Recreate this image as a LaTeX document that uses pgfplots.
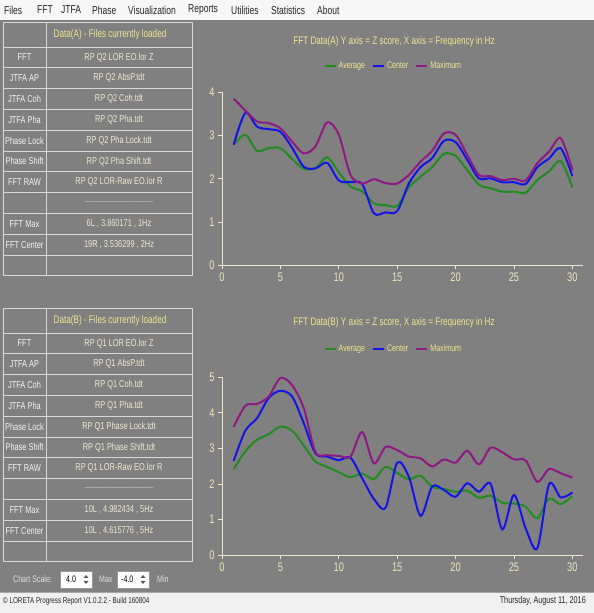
\documentclass[border=0pt]{standalone}
\usepackage{pgfplots}
\pgfplotsset{compat=1.18}
\usepackage{pgfplotstable}
\usepackage{fontspec}
\setmainfont{Liberation Sans}[FakeStretch=0.74]
\definecolor{bg}{HTML}{808080}
\definecolor{menubg}{HTML}{F7F7F7}
\definecolor{statbg}{HTML}{F0F0F0}
\definecolor{tline}{HTML}{D8D8D8}
\definecolor{axiscol}{HTML}{EEE8C8}
\definecolor{khaki}{HTML}{F0E68C}
\definecolor{tickcol}{HTML}{EEE8B8}
\definecolor{valcol}{HTML}{EFEAD0}
\definecolor{labcol}{HTML}{F4F4F4}
\definecolor{cgreen}{HTML}{228B22}
\definecolor{cblue}{HTML}{1414E6}
\definecolor{cpurple}{HTML}{8C1A82}

\pgfplotstableread{
x avg cen max
1 2.78 2.79 3.86
2 3.02 3.53 3.58
3 2.65 3.21 3.33
4 2.71 3.15 3.29
5 2.71 3.09 3.17
6 2.46 2.72 2.86
7 2.23 2.28 2.59
8 2.25 2.24 2.75
9 2.50 2.37 3.31
10 2.15 1.96 3.02
11 1.82 1.92 2.09
12 1.71 1.88 1.89
13 1.43 1.20 1.99
14 1.39 1.22 1.90
15 1.37 1.25 1.89
16 1.80 1.89 2.09
17 2.05 2.27 2.40
18 2.27 2.48 2.65
19 2.58 2.88 3.05
20 2.53 2.85 3.02
21 2.20 2.44 2.55
22 1.86 2.01 2.09
23 1.78 2.01 2.06
24 1.70 1.92 1.97
25 1.70 1.92 2.00
26 1.68 1.88 1.96
27 1.97 2.27 2.36
28 2.17 2.47 2.63
29 2.41 2.71 2.94
30 1.80 2.06 2.20
}\tabA

\pgfplotstableread{
x avg cen max
1 2.42 2.65 3.60
2 2.92 3.50 4.20
3 3.24 3.85 4.25
4 3.40 4.42 4.46
5 3.61 4.62 4.98
6 3.50 4.46 4.78
7 3.08 3.71 4.13
8 2.63 2.86 2.90
9 2.48 2.77 2.81
10 2.33 2.67 2.79
11 2.19 2.74 2.77
12 2.29 2.16 3.46
13 2.14 1.58 2.58
14 2.48 1.33 3.04
15 2.31 2.60 2.95
16 2.13 2.20 2.77
17 2.23 1.10 2.72
18 1.92 1.93 2.49
19 1.86 1.83 2.69
20 1.78 1.64 2.60
21 1.81 2.02 2.93
22 1.61 1.78 2.55
23 1.67 2.00 3.02
24 1.47 0.72 2.89
25 1.45 1.69 2.69
26 1.36 0.75 2.66
27 1.03 0.19 2.06
28 1.59 1.99 2.42
29 1.43 1.62 2.30
30 1.66 1.76 2.18
}\tabB

\pgfplotsset{
  fftaxis/.style={
    scale only axis, anchor=south west,
    width=360.9pt,
    xmin=0, xmax=30.9, ymin=0,
    axis x line=bottom, axis y line=left,
    axis line style={-, draw=axiscol, line width=0.8pt},
    xtick={0,5,...,30},
    tick align=outside, major tick length=4pt,
    tick style={draw=axiscol, line width=0.7pt},
    ticklabel style={font=\fontsize{12.5}{13}\selectfont, text=tickcol},
    /pgf/number format/assume math mode=true,
    clip=false,
    legend columns=3,
    legend style={anchor=center, draw=none, fill=none, text=khaki,
      font=\fontsize{9.6}{10}\selectfont, inner sep=0pt,
      /tikz/every even column/.append style={column sep=5pt}},
    legend image code/.code={\draw[##1] (0pt,0pt) -- (11pt,0pt);},
  },
  avgst/.style={cgreen, line width=2pt, smooth, no markers},
  censt/.style={cblue, line width=2pt, smooth, no markers},
  maxst/.style={cpurple, line width=2pt, smooth, no markers},
}

% table helpers (y given in screen pixels from top)
\newcommand{\tlines}[1]{%
  \draw[tline, line width=0.8pt] (3,{613-#1}) -- (192,{613-#1});
  \foreach \k in {0,...,11} {\draw[tline, line width=0.8pt] (3,{613-#1-25-\k*20.8}) -- (192,{613-#1-25-\k*20.8});}
  \foreach \xx in {3,46,192} {\draw[tline, line width=0.8pt] (\xx,{613-#1}) -- (\xx,{613-#1-25-11*20.8});}
}
\newcommand{\trow}[4]{%
  \node[text=labcol, font=\fontsize{10}{11}\selectfont] at (24.5,{613-#1-35.4-#2*20.8}) {#3};
  \node[text=valcol, font=\fontsize{10}{11}\selectfont] at (119,{613-#1-35.4-#2*20.8}) {#4};
}

\begin{document}
\begin{tikzpicture}[x=1pt,y=1pt]
\path[use as bounding box] (0,0) rectangle (594,613);
\fill[bg] (0,0) rectangle (594,613);
% menu bar
\fill[menubg] (0,593) rectangle (594,613);
\begin{scope}[every node/.style={anchor=west, text=black!85, font=\fontsize{11.5}{12}\selectfont, inner sep=0pt}]
\node at (4,603) {Files};
\node at (37,603) {FFT};
\node at (61,603) {JTFA};
\node at (92,603) {Phase};
\node at (128,603) {Visualization};
\node at (188,603) {Reports};
\node at (231,603) {Utilities};
\node at (271,603) {Statistics};
\node at (317,603) {About};
\end{scope}
% status bar
\fill[statbg] (0,0) rectangle (594,21);
\draw[black!35, line width=0.6pt] (0,21) -- (594,21);
\node[anchor=west, text=black!85, font=\fontsize{8.5}{9}\selectfont, inner sep=0pt] at (3,12) {\textcopyright\ LORETA Progress Report V1.0.2.2 - Build 160804};
\node[anchor=east, text=black!85, font=\fontsize{9.8}{10}\selectfont, inner sep=0pt] at (586,12) {Thursday, August 11, 2016};

% ---- table A
\tlines{22}
\node[text=khaki, font=\fontsize{11}{12}\selectfont] at (110,{613-35}) {Data(A) - Files currently loaded};
\trow{22}{0}{FFT}{RP Q2 LOR EO.lor Z}
\trow{22}{1}{JTFA AP}{RP Q2 AbsP.tdt}
\trow{22}{2}{JTFA Coh}{RP Q2 Coh.tdt}
\trow{22}{3}{JTFA Pha}{RP Q2 Pha.tdt}
\trow{22}{4}{Phase Lock}{RP Q2 Pha Lock.tdt}
\trow{22}{5}{Phase Shift}{RP Q2 Pha Shift.tdt}
\trow{22}{6}{FFT RAW}{RP Q2 LOR-Raw EO.lor R}
\trow{22}{7}{}{\fontsize{6}{6}\selectfont ----------------------------------------------}
\trow{22}{8}{FFT Max}{6L , 3.860171 , 1Hz}
\trow{22}{9}{FFT Center}{19R , 3.536299 , 2Hz}

% ---- table B
\tlines{308}
\node[text=khaki, font=\fontsize{11}{12}\selectfont] at (110,{613-321}) {Data(B) - Files currently loaded};
\trow{308}{0}{FFT}{RP Q1 LOR EO.lor Z}
\trow{308}{1}{JTFA AP}{RP Q1 AbsP.tdt}
\trow{308}{2}{JTFA Coh}{RP Q1 Coh.tdt}
\trow{308}{3}{JTFA Pha}{RP Q1 Pha.tdt}
\trow{308}{4}{Phase Lock}{RP Q1 Phase Lock.tdt}
\trow{308}{5}{Phase Shift}{RP Q1 Phase Shift.tdt}
\trow{308}{6}{FFT RAW}{RP Q1 LOR-Raw EO.lor R}
\trow{308}{7}{}{\fontsize{6}{6}\selectfont ----------------------------------------------}
\trow{308}{8}{FFT Max}{10L , 4.982434 , 5Hz}
\trow{308}{9}{FFT Center}{10L , 4.615776 , 5Hz}

% chart scale row
\node[anchor=west, text=black!12, font=\fontsize{9.5}{10}\selectfont, inner sep=0pt] at (13,34) {Chart Scale:};
\fill[white] (60,25) rectangle (92,42);
\draw[black!40] (60,25) rectangle (92,42);
\node[anchor=west, text=black, font=\fontsize{9.5}{10}\selectfont, inner sep=0pt] at (66,33.5) {4.0};
\fill[black!65] (83.5,35) -- (88.5,35) -- (86,38) -- cycle;
\fill[black!65] (83.5,32) -- (88.5,32) -- (86,29) -- cycle;
\node[anchor=west, text=black!12, font=\fontsize{9.5}{10}\selectfont, inner sep=0pt] at (99,34) {Max};
\fill[white] (117,25) rectangle (149,42);
\draw[black!40] (117,25) rectangle (149,42);
\node[anchor=west, text=black, font=\fontsize{9.5}{10}\selectfont, inner sep=0pt] at (121,33.5) {-4.0};
\fill[black!65] (140.5,35) -- (145.5,35) -- (143,38) -- cycle;
\fill[black!65] (140.5,32) -- (145.5,32) -- (143,29) -- cycle;
\node[anchor=west, text=black!12, font=\fontsize{9.5}{10}\selectfont, inner sep=0pt] at (157,34) {Min};

% ---- chart A
\begin{axis}[fftaxis, at={(222pt,348pt)}, height=173.3pt, ymax=4.02, ytick={0,1,2,3,4},
  legend style={at={(0.475,1.148)}}]
\addplot[avgst] table[x=x,y=avg] {\tabA};
\addlegendentry{Average}
\addplot[censt] table[x=x,y=cen] {\tabA};
\addlegendentry{Center}
\addplot[maxst] table[x=x,y=max] {\tabA};
\addlegendentry{Maximum}
\end{axis}
\node[text=khaki, font=\fontsize{11}{12}\selectfont] at (394,571) {FFT Data(A) Y axis = Z score, X axis = Frequency in Hz};

% ---- chart B
\begin{axis}[fftaxis, at={(222pt,58pt)}, height=178.4pt, ymax=5.02, ytick={0,1,2,3,4,5},
  legend style={at={(0.475,1.155)}}]
\addplot[avgst] table[x=x,y=avg] {\tabB};
\addlegendentry{Average}
\addplot[censt] table[x=x,y=cen] {\tabB};
\addlegendentry{Center}
\addplot[maxst] table[x=x,y=max] {\tabB};
\addlegendentry{Maximum}
\end{axis}
\node[text=khaki, font=\fontsize{11}{12}\selectfont] at (394,290) {FFT Data(B) Y axis = Z score, X axis = Frequency in Hz};
\end{tikzpicture}
\end{document}
